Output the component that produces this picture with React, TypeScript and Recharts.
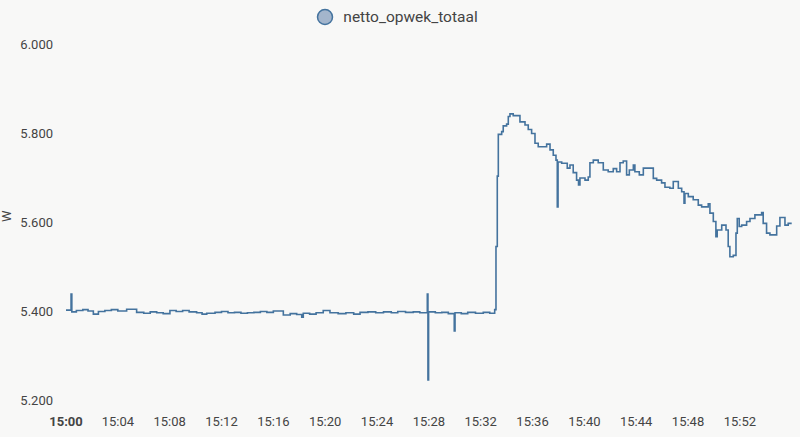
import { LineChart, Line, XAxis, YAxis, Legend } from 'recharts';

// minutes after 15:00
const minutes = [
  0.0, 0.39, 0.45, 0.8, 1.3, 1.7, 2.11, 2.5, 3.0, 3.5, 4.0, 4.68, 5.45, 6.0, 6.5, 7.0, 7.5,
  8.02, 8.5, 9.0, 9.5, 10.08, 10.5, 10.86, 11.5, 12.0, 12.5, 13.0, 13.5, 14.0, 14.5, 15.0,
  15.5, 16.0, 16.77, 17.3, 17.8, 18.19, 18.31, 18.8, 19.3, 19.85, 20.37, 21.0, 21.6, 22.2,
  22.69, 23.3, 23.9, 24.5, 25.1, 25.6, 26.2, 26.8, 27.3, 27.88, 27.93, 27.98, 28.5, 29.0,
  29.5, 29.96, 30.02, 30.5, 31.0, 31.6, 32.2, 32.7, 33.08, 33.18, 33.28, 33.36, 33.62,
  33.74, 34.0, 34.13, 34.26, 34.51, 35.03, 35.42, 35.67, 35.93, 36.19, 36.44, 37.09, 37.35,
  37.6, 37.81, 37.91, 37.97, 38.25, 38.68, 38.89, 39.14, 39.4, 39.55, 39.66, 40.05, 40.3,
  40.43, 40.69, 41.07, 41.46, 41.84, 42.23, 42.49, 42.75, 43.0, 43.26, 43.47, 43.78, 43.9,
  44.24, 44.55, 45.32, 45.58, 45.96, 46.22, 46.6, 46.86, 47.25, 47.51, 47.69, 47.76, 48.02,
  48.4, 48.79, 49.05, 49.56, 49.69, 49.95, 50.15, 50.25, 50.6, 50.93, 51.1, 51.23, 51.49,
  51.7, 51.8, 51.95, 52.14, 52.52, 52.78, 53.16, 53.68, 53.8, 54.06, 54.32, 54.84, 55.09,
  55.48, 55.73, 56.0,
];

const opwek = [
  5402, 5438, 5398, 5401, 5403, 5400, 5393, 5399, 5401, 5403, 5400, 5404, 5397, 5395, 5398,
  5396, 5394, 5401, 5399, 5401, 5398, 5396, 5393, 5395, 5397, 5399, 5396, 5397, 5395, 5396,
  5397, 5399, 5397, 5400, 5391, 5394, 5392, 5386, 5395, 5393, 5396, 5401, 5396, 5394, 5396,
  5393, 5397, 5398, 5396, 5398, 5396, 5399, 5397, 5398, 5396, 5438, 5245, 5398, 5396, 5397,
  5394, 5355, 5396, 5394, 5397, 5395, 5397, 5395, 5403, 5545, 5703, 5797, 5803, 5816, 5820,
  5837, 5843, 5839, 5825, 5818, 5808, 5799, 5777, 5769, 5775, 5762, 5750, 5739, 5634, 5735,
  5732, 5721, 5728, 5711, 5694, 5683, 5699, 5694, 5701, 5733, 5739, 5733, 5717, 5713, 5720,
  5713, 5733, 5737, 5706, 5717, 5728, 5713, 5706, 5721, 5698, 5694, 5688, 5678, 5676, 5691,
  5676, 5668, 5642, 5664, 5657, 5650, 5638, 5634, 5641, 5620, 5601, 5567, 5582, 5593, 5582,
  5545, 5522, 5525, 5575, 5608, 5590, 5593, 5601, 5608, 5616, 5621, 5597, 5575, 5571, 5591,
  5610, 5593, 5597, 5597,
];

const xTicks = [0, 4, 8, 12, 16, 20, 24, 28, 32, 36, 40, 44, 48, 52];
const yTicks = [5200, 5400, 5600, 5800, 6000];

const data = minutes.map((t, i) => ({ t, netto_opwek_totaal: opwek[i] }));

const lineColor = '#44739e';

function fmtTime(m: number) {
  const mm = Math.round(m);
  return `15:${String(mm).padStart(2, '0')}`;
}

function fmtW(v: number) {
  const s = String(Math.round(v));
  return s.replace(/\B(?=(\d{3})+(?!\d))/g, '.');
}

function TimeTick(props: any) {
  const { x, y, payload } = props;
  return (
    <text
      x={x}
      y={y}
      dy="0.71em"
      textAnchor="middle"
      fill="#444"
      fontSize={13}
      fontWeight={payload.value === 0 ? 700 : 400}
    >
      {fmtTime(payload.value)}
    </text>
  );
}

function LegendContent() {
  return (
    <div style={{ display: 'flex', justifyContent: 'center', alignItems: 'center', gap: 9, paddingRight: 6 }}>
      <svg width={18} height={18}>
        <circle cx={9} cy={9} r={7.5} fill="#a3b5cc" stroke={lineColor} strokeWidth={1.5} />
      </svg>
      <span style={{ fontSize: 15.5, color: '#444' }}>netto_opwek_totaal</span>
    </div>
  );
}

export default function App() {
  return (
    <div style={{ width: 800, height: 437, background: '#f8f8f7', fontFamily: 'Roboto, sans-serif' }}>
      <style>{'body{margin:0}'}</style>
      <LineChart width={800} height={437} data={data} margin={{ top: 26, right: 7, bottom: 0, left: 0 }}>
        <Legend verticalAlign="top" content={<LegendContent />} wrapperStyle={{ top: 8, left: 0, width: 800 }} />
        <XAxis
          dataKey="t"
          type="number"
          domain={[0, 56.1]}
          ticks={xTicks}
          axisLine={false}
          tickLine={false}
          height={37}
          tickMargin={11}
          tick={<TimeTick />}
        />
        <YAxis
          type="number"
          domain={[5200, 6000]}
          ticks={yTicks}
          axisLine={false}
          tickLine={false}
          width={66}
          tickMargin={7}
          tickFormatter={fmtW}
          tick={{ fill: '#444', fontSize: 13 }}
          label={{ value: 'W', angle: -90, position: 'insideLeft', dx: 1, fill: '#444', fontSize: 13 }}
        />
        <Line
          type="stepAfter"
          dataKey="netto_opwek_totaal"
          stroke={lineColor}
          strokeWidth={1.6}
          dot={false}
          isAnimationActive={false}
        />
      </LineChart>
    </div>
  );
}
